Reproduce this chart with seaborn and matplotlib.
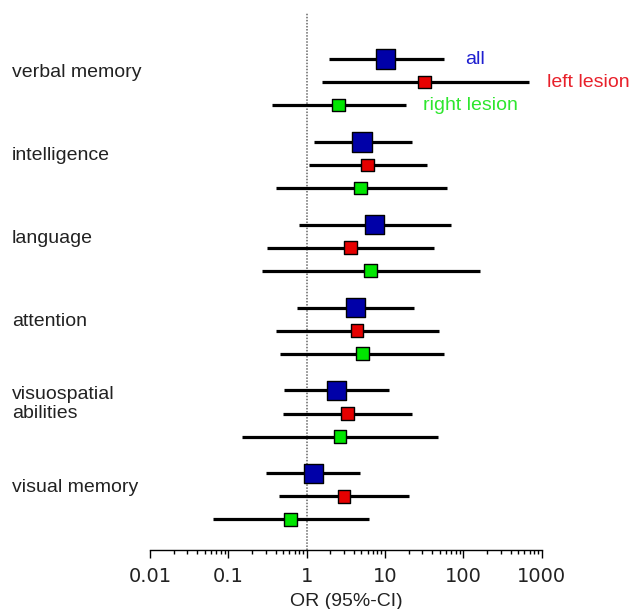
import numpy as np
import pandas as pd
import matplotlib
matplotlib.use("Agg")
import matplotlib.pyplot as plt
import matplotlib.transforms as mtransforms
from matplotlib.ticker import FixedLocator, FixedFormatter, LogLocator, NullFormatter
import seaborn as sns

# ---- data ----
domains = ["verbal memory", "intelligence", "language", "attention",
           "visuospatial\nabilities", "visual memory"]
groups = ["all", "left lesion", "right lesion"]

or_all = [10.2, 5.1, 7.4, 4.2, 2.4, 1.22]
lo_all = [1.9, 1.25, 0.80, 0.76, 0.51, 0.30]
hi_all = [56, 22, 70, 23.5, 11.2, 4.8]

or_left = [32, 6.0, 3.6, 4.4, 3.3, 3.0]
lo_left = [1.55, 1.07, 0.31, 0.40, 0.50, 0.44]
hi_left = [690, 34, 42, 49, 22, 20]

or_right = [2.56, 4.9, 6.6, 5.1, 2.66, 0.62]
lo_right = [0.36, 0.40, 0.27, 0.46, 0.15, 0.064]
hi_right = [18.5, 61, 163, 57, 47, 6.2]

xticks = [0.01, 0.1, 1, 10, 100, 1000]
xtick_labels = ["0.01", "0.1", "1", "10", "100", "1000"]

# ---- build table ----
rows = []
series = {"all": (or_all, lo_all, hi_all),
          "left lesion": (or_left, lo_left, hi_left),
          "right lesion": (or_right, lo_right, hi_right)}
GROUP_STEP = 3.6
for di, d in enumerate(domains):
    for gi, g in enumerate(groups):
        o, l, h = series[g]
        rows.append(dict(domain=d, group=g, OR=o[di], lo=l[di], hi=h[di],
                         row=di * GROUP_STEP + gi))
df = pd.DataFrame(rows)

sns.set_style("white")
plt.rcParams["font.family"] = ["Liberation Sans", "DejaVu Sans"]

marker_colors = {"all": "#0000a8", "left lesion": "#e60000", "right lesion": "#00e600"}
text_colors = {"all": "#1f1fd0", "left lesion": "#e8202a", "right lesion": "#2ee62e"}

fig = plt.figure(figsize=(6.32, 6.09), dpi=100)
ax = fig.add_axes([150 / 632, 59 / 609, 391.7 / 632, 537 / 609])

ax.set_xscale("log")
ax.axvline(1, color="#666666", lw=1.1, ls=(0, (1, 1)), zorder=1)
ax.hlines(df["row"], df["lo"], df["hi"], color="black", lw=2.3, zorder=2)
sns.scatterplot(data=df, x="OR", y="row", hue="group", palette=marker_colors,
                size="group", sizes={"all": 195, "left lesion": 85, "right lesion": 85},
                marker="s", edgecolor="black", linewidth=1.0, legend=False,
                zorder=3, ax=ax)

ax.set_xlim(0.01, 1000)
ax.set_ylim(21.33, -2.0)
ax.set_yticks([])
ax.set_ylabel("")
ax.xaxis.set_major_locator(FixedLocator(xticks))
ax.xaxis.set_major_formatter(FixedFormatter(xtick_labels))
ax.xaxis.set_minor_locator(LogLocator(base=10, subs=np.arange(2, 10)))
ax.xaxis.set_minor_formatter(NullFormatter())
ax.tick_params(axis="x", which="major", direction="out", length=6, width=1,
               labelsize=14, pad=6.5, color="black", bottom=True,
               labelcolor="#222222")
ax.tick_params(axis="x", which="minor", direction="out", length=3, width=1,
               color="black", bottom=True)
for lab in ax.get_xticklabels():
    lab.set_fontfamily(["DejaVu Sans"])
for s in ["left", "top", "right"]:
    ax.spines[s].set_visible(False)
ax.spines["bottom"].set_linewidth(1.0)
ax.spines["bottom"].set_color("black")
ax.set_xlabel("OR (95%-CI)", fontsize=14, labelpad=5, color="#222222")

# domain labels on the left
trans = mtransforms.blended_transform_factory(fig.transFigure, ax.transData)
for di, d in enumerate(domains):
    ax.text(12 / 632, di * GROUP_STEP + 0.6, d, transform=trans, fontsize=14,
            ha="left", va="center", color="#222222", linespacing=1.15)

# series labels next to the first group
label_x = {"all": 105, "left lesion": 1175, "right lesion": 30.6}
for gi, g in enumerate(groups):
    ax.text(label_x[g], gi, g, fontsize=14, color=text_colors[g],
            ha="left", va="center", clip_on=False)

fig.savefig("out.png", dpi=100)
